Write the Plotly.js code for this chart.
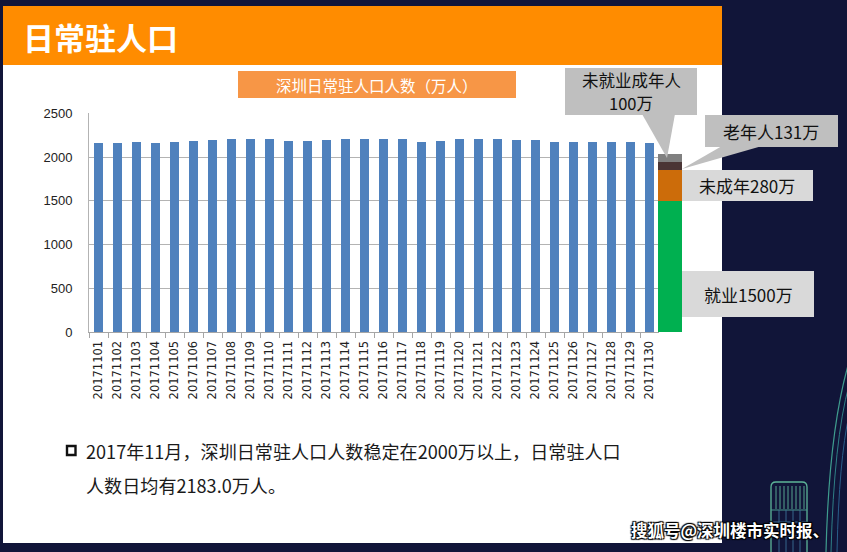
<!DOCTYPE html>
<html>
<head>
<meta charset="utf-8">
<script src="https://cdn.plot.ly/plotly-3.0.1.min.js"></script>
<style>
  html, body { margin: 0; padding: 0; background: #111539; }
  #chart { width: 847px; height: 552px; }
</style>
</head>
<body>
<div id="chart"></div>
<script>
// ---- data ----
const dates = ["20171101","20171102","20171103","20171104","20171105","20171106","20171107","20171108","20171109","20171110",
               "20171111","20171112","20171113","20171114","20171115","20171116","20171117","20171118","20171119","20171120",
               "20171121","20171122","20171123","20171124","20171125","20171126","20171127","20171128","20171129","20171130"];
const population = [2156,2156,2168,2156,2168,2184,2191,2202,2202,2202,
                    2179,2179,2191,2202,2202,2202,2202,2168,2184,2202,
                    2202,2202,2191,2191,2168,2168,2176,2168,2168,2160];
const segmentNames  = ["就业", "未成年", "老年人", "未就业成年人"];
const segmentValues = [1500, 353, 91, 88];   // drawn heights
const segmentLabels = ["就业1500万", "未成年280万", "老年人131万", "未就业成年人", "100万"];
const segmentColors = ["#00B050", "#CC6C0A", "#4A3535", "#808080"];
const yTicks = [0, 500, 1000, 1500, 2000, 2500];

const W = 847, H = 552;
const px = x => x / W;
const py = y => 1 - y / H;
const CJK = '"Noto Sans CJK SC", "Microsoft YaHei", sans-serif';
const NUM = '"Liberation Sans", Arial, sans-serif';

const traces = [{
  type: 'bar', x: dates, y: population, width: 0.44,
  marker: { color: '#4F81BD' }, xaxis: 'x', yaxis: 'y', showlegend: false, hoverinfo: 'x+y'
}];
segmentNames.forEach((n, i) => {
  traces.push({
    type: 'bar', name: n, x: [0.5], y: [segmentValues[i]], width: [1],
    marker: { color: segmentColors[i] }, xaxis: 'x2', yaxis: 'y2', showlegend: false
  });
});

// ---- decoration shapes ----
const shapes = [
  { type: 'rect', xref: 'paper', yref: 'paper', x0: px(3), x1: px(722), y0: py(543), y1: py(6),
    fillcolor: '#FFFFFF', line: { width: 0 }, layer: 'below' },
  { type: 'rect', xref: 'paper', yref: 'paper', x0: px(3), x1: px(722), y0: py(65), y1: py(6),
    fillcolor: '#FF8C00', line: { width: 0 }, layer: 'below' },
  { type: 'rect', xref: 'paper', yref: 'paper', x0: px(238), x1: px(516), y0: py(98), y1: py(71),
    fillcolor: '#F79646', line: { width: 0 }, layer: 'below' },
  { type: 'rect', xref: 'paper', yref: 'paper', x0: px(565), x1: px(697), y0: py(115), y1: py(68),
    fillcolor: '#BFBFBF', line: { width: 0 }, layer: 'above' },
  { type: 'path', xref: 'paper', yref: 'paper',
    path: `M ${px(642)} ${py(114)} L ${px(675)} ${py(114)} L ${px(667)} ${py(158)} Z`,
    fillcolor: '#BFBFBF', line: { width: 0 }, layer: 'above' },
  { type: 'rect', xref: 'paper', yref: 'paper', x0: px(705), x1: px(838), y0: py(147), y1: py(115),
    fillcolor: '#BFBFBF', line: { width: 0 }, layer: 'above' },
  { type: 'path', xref: 'paper', yref: 'paper',
    path: `M ${px(722)} ${py(146)} L ${px(762)} ${py(146)} L ${px(682)} ${py(169)} Z`,
    fillcolor: '#BFBFBF', line: { width: 0 }, layer: 'above' },
  { type: 'rect', xref: 'paper', yref: 'paper', x0: px(682), x1: px(813), y0: py(201), y1: py(170),
    fillcolor: '#D9D9D9', line: { width: 0 }, layer: 'above' },
  { type: 'rect', xref: 'paper', yref: 'paper', x0: px(682), x1: px(814), y0: py(317), y1: py(271),
    fillcolor: '#D9D9D9', line: { width: 0 }, layer: 'above' },
  { type: 'rect', xref: 'paper', yref: 'paper', x0: px(67), x1: px(75.5), y0: py(455), y1: py(446),
    fillcolor: '#FFFFFF', line: { color: '#111111', width: 2.4 }, layer: 'above' },
  { type: 'path', xref: 'paper', yref: 'paper',
    path: `M ${px(826)} ${py(552)} Q ${px(829)} ${py(430)} ${px(849)} ${py(362)}`,
    line: { color: '#3F9C8E', width: 1.2 }, layer: 'below' },
  { type: 'path', xref: 'paper', yref: 'paper',
    path: `M ${px(831)} ${py(552)} Q ${px(834)} ${py(440)} ${px(849)} ${py(385)}`,
    line: { color: '#2F7F86', width: 1 }, layer: 'below' },
  { type: 'path', xref: 'paper', yref: 'paper',
    path: `M ${px(837)} ${py(552)} Q ${px(839)} ${py(460)} ${px(849)} ${py(415)}`,
    line: { color: '#2A5E8A', width: 1 }, layer: 'below' },
  { type: 'path', xref: 'paper', yref: 'paper',
    path: `M ${px(771)} ${py(552)} L ${px(771)} ${py(487)} Q ${px(771)} ${py(482)} ${px(776)} ${py(482)} L ${px(802)} ${py(482)} Q ${px(807)} ${py(482)} ${px(807)} ${py(487)} L ${px(807)} ${py(552)}`,
    line: { color: '#5DB598', width: 1.3 }, layer: 'below' },
  { type: 'line', xref: 'paper', yref: 'paper', x0: px(771), x1: px(807), y0: py(510), y1: py(510),
    line: { color: '#4A9A8E', width: 1 }, layer: 'below' },
  { type: 'line', xref: 'paper', yref: 'paper', x0: px(771), x1: px(807), y0: py(522), y1: py(522),
    line: { color: '#3B6F96', width: 1 }, layer: 'below' },
  { type: 'line', xref: 'paper', yref: 'paper', x0: px(771), x1: px(807), y0: py(536), y1: py(536),
    line: { color: '#34609A', width: 1 }, layer: 'below' }
];
for (let k = 0; k < 8; k++) {
  const xx = 776 + k * 4;
  shapes.push({ type: 'line', xref: 'paper', yref: 'paper', x0: px(xx), x1: px(xx), y0: py(509), y1: py(486),
    line: { color: '#5DB598', width: 0.9 }, layer: 'below' });
}
for (let k = 0; k < 4; k++) {
  const xx = 779 + k * 7;
  shapes.push({ type: 'line', xref: 'paper', yref: 'paper', x0: px(xx), x1: px(xx), y0: py(552), y1: py(510),
    line: { color: '#3B6F96', width: 0.9 }, layer: 'below' });
}

// ---- text ----
const ann = (text, x, y, size, color, opts = {}) => Object.assign({
  text, x: px(x), y: py(y), xref: 'paper', yref: 'paper', showarrow: false,
  xanchor: 'center', yanchor: 'middle', borderpad: 0, font: { family: CJK, size, color }
}, opts);

const annotations = [
  ann('<b>日常驻人口</b>', 22, 37, 31, '#FFFFFF', { xanchor: 'left' }),
  ann('深圳日常驻人口人数（万人）', 377, 85, 15.5, '#FFFFFF'),
  ann(segmentLabels[3], 631, 79.5, 16.5, '#111111'),
  ann(segmentLabels[4], 631, 102.5, 16.5, '#111111'),
  ann(segmentLabels[2], 771, 131, 17, '#111111'),
  ann(segmentLabels[1], 747, 185.5, 17, '#111111'),
  ann(segmentLabels[0], 748, 294, 17, '#111111'),
  ann('2017年11月，深圳日常驻人口人数稳定在2000万以上，日常驻人口', 85, 451, 18.1, '#1A1A1A', { xanchor: 'left' }),
  ann('人数日均有2183.0万人。', 85, 485, 18.1, '#1A1A1A', { xanchor: 'left' }),
  ann('<b>搜狐号@深圳楼市实时报、</b>', 730, 530, 16.5, '#FFFFFF',
      { font: { family: CJK, size: 16.5, color: '#FFFFFF',
                shadow: '1px 1px 1px #000, -1px -1px 1px #000, 1px -1px 1px #000, -1px 1px 1px #000' } })
];

const layout = {
  width: W, height: H,
  margin: { l: 0, r: 0, t: 0, b: 0, pad: 0 },
  paper_bgcolor: '#111539',
  plot_bgcolor: 'rgba(0,0,0,0)',
  barmode: 'stack',
  showlegend: false,
  xaxis: {
    domain: [px(89), px(659)], type: 'category', range: [-0.5, 29.5],
    tickson: 'boundaries', ticks: 'outside', ticklen: 5, tickcolor: '#A6A6A6',
    showline: true, linecolor: '#A6A6A6', linewidth: 1, showgrid: false, zeroline: false,
    tickangle: -90, tickfont: { family: '"DejaVu Sans", sans-serif', size: 11.5, color: '#222222' }, ticklabelstandoff: 3,
    anchor: 'y', fixedrange: true
  },
  yaxis: {
    domain: [py(332.3), py(113.3)], range: [0, 2500],
    tickvals: yTicks, ticktext: yTicks.map(String),
    showgrid: true, gridcolor: '#B3B3B3', gridwidth: 1,
    showline: true, linecolor: '#B3B3B3', linewidth: 1, zeroline: false,
    ticks: '', tickfont: { family: NUM, size: 13, color: '#222222' }, ticklabelstandoff: 13,
    anchor: 'x', fixedrange: true
  },
  xaxis2: { domain: [px(658), px(682)], range: [0, 1], anchor: 'y2', visible: false, fixedrange: true },
  yaxis2: { domain: [py(332.3), py(113.3)], range: [0, 2500], anchor: 'x2', visible: false,
            showgrid: false, fixedrange: true },
  shapes, annotations
};

Plotly.newPlot('chart', traces, layout, { staticPlot: true, displayModeBar: false });
</script>
</body>
</html>
